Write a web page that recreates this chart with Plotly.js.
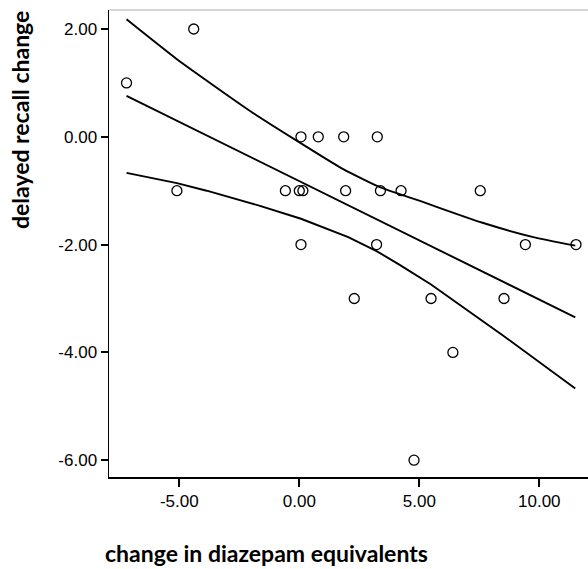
<!DOCTYPE html>
<html>
<head>
<meta charset="utf-8">
<script src="https://cdn.plot.ly/plotly-3.0.1.min.js"></script>
<style>html,body{margin:0;padding:0;background:#fff;}#chart{width:588px;height:569px;}</style>
</head>
<body>
<div id="chart"></div>
<script>
// observed points
var diazepamChange = [-7.2, -4.4, -5.1, 0.07, 0.79, 1.85, 3.25, -0.58, 0.0, 0.15, 1.93, 3.38, 4.24, 7.54, 0.07, 3.22, 9.42, 11.53, 2.29, 5.49, 8.53, 6.40, 4.78];
var recallChange   = [1, 2, -1, 0, 0, 0, 0, -1, -1, -1, -1, -1, -1, -1, -2, -2, -2, -2, -3, -3, -3, -4, -6];

// fit line
var fitX = [-7.2, 11.5];
var fitY = [0.76, -3.35];

// upper confidence curve
var upperX = [-7.2, -5.1, -2.05, -0.11, 1.83, 3.38, 5.03, 7.6, 9.75, 11.5];
var upperY = [2.18, 1.44, 0.48, -0.07, -0.60, -0.94, -1.19, -1.59, -1.86, -2.02];

// lower confidence curve
var lowerX = [-7.2, -5.1, -3.86, -1.64, 0.07, 2.04, 3.22, 4.2, 5.49, 8.53, 11.5];
var lowerY = [-0.67, -0.86, -1.0, -1.28, -1.52, -1.86, -2.12, -2.38, -2.74, -3.70, -4.67];

// tick labels
var xTickVals = [-5, 0, 5, 10];
var xTickText = ['-5.00', '0.00', '5.00', '10.00'];
var yTickVals = [2, 0, -2, -4, -6];
var yTickText = ['2.00', '0.00', '-2.00', '-4.00', '-6.00'];

// axis titles
var xTitle = 'change in diazepam equivalents';
var yTitle = 'delayed recall change';

var lineStyle = {color: '#000', width: 1.9};
var traces = [
  {x: upperX, y: upperY, mode: 'lines', line: {color: '#000', width: 1.9, shape: 'spline', smoothing: 0.5}, hoverinfo: 'skip'},
  {x: fitX, y: fitY, mode: 'lines', line: lineStyle, hoverinfo: 'skip'},
  {x: lowerX, y: lowerY, mode: 'lines', line: lineStyle, hoverinfo: 'skip'},
  {x: diazepamChange, y: recallChange, mode: 'markers',
   marker: {symbol: 'circle-open', size: 10, color: '#000', line: {width: 1.3, color: '#000'}}}
];

var tickFont = {family: '"Liberation Sans", Arial, sans-serif', size: 17, color: '#000'};
var titleFont = {family: 'Lato, "Open Sans", sans-serif', size: 23, color: '#000', weight: 'bold'};

var layout = {
  width: 588, height: 569,
  margin: {l: 109, r: 0, t: 10, b: 92},
  paper_bgcolor: '#fff', plot_bgcolor: '#fff',
  showlegend: false,
  xaxis: {
    range: [-7.93, 12.03],
    tickmode: 'array', tickvals: xTickVals, ticktext: xTickText,
    ticks: 'outside', ticklen: 8, tickwidth: 2, tickcolor: '#000',
    showline: true, linecolor: '#000', linewidth: 1.5,
    showgrid: false, zeroline: false,
    tickfont: tickFont,
    automargin: false
  },
  yaxis: {
    range: [-6.312, 2.353],
    tickmode: 'array', tickvals: yTickVals, ticktext: yTickText,
    ticks: 'outside', ticklen: 7, tickwidth: 2, tickcolor: '#000',
    showline: true, linecolor: '#000', linewidth: 1.5,
    showgrid: false, zeroline: false,
    tickfont: tickFont,
    automargin: false
  },
  annotations: [
    {text: xTitle, xref: 'paper', yref: 'paper', x: -0.0125, y: -0.1627,
     xanchor: 'left', yanchor: 'middle', showarrow: false, font: titleFont},
    {text: yTitle, xref: 'paper', yref: 'paper', x: -0.1858, y: 0.7645, textangle: -90,
     xanchor: 'center', yanchor: 'middle', showarrow: false, font: titleFont}
  ],
  shapes: [
    {type: 'line', xref: 'paper', yref: 'paper', x0: 0, x1: 1, y0: 1, y1: 1,
     line: {color: '#c8c8c8', width: 1.5}}
  ]
};

Plotly.newPlot('chart', traces, layout, {displayModeBar: false, staticPlot: true});
</script>
</body>
</html>
